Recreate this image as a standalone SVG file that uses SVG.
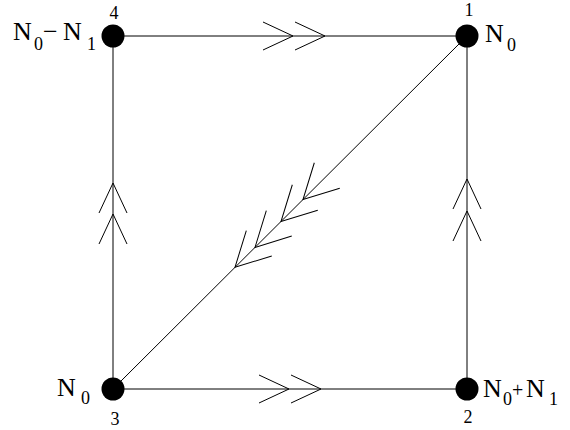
<svg xmlns="http://www.w3.org/2000/svg" width="570" height="430" viewBox="0 0 570 430">
<defs>
<style>
.edge{stroke:#000;stroke-width:1;fill:none}
.chev{stroke:#000;stroke-width:1;fill:none}
.node{fill:#000}
.lbl{font-family:"Liberation Serif","Times New Roman",serif;font-size:26px;fill:#000}
.sub{font-size:18px}
.num{font-family:"Liberation Serif","Times New Roman",serif;font-size:18px;fill:#000;text-anchor:middle}
</style>
<path id="ch" class="chev" d="M-30,-14 L0,0 L-30,14"/>
<path id="chd" class="chev" d="M-34,-18 L0,0 L-34,18"/>
</defs>
<rect width="570" height="430" fill="#fff"/>
<g id="connectors">
<line class="edge" x1="113" y1="36" x2="467" y2="36"/>
<line class="edge" x1="113" y1="389" x2="467" y2="389"/>
<line class="edge" x1="113" y1="36" x2="113" y2="389"/>
<line class="edge" x1="467" y1="36" x2="467" y2="389"/>
<line class="edge" x1="113" y1="389" x2="467" y2="36"/>
<use href="#ch" transform="translate(293,36)"/>
<use href="#ch" transform="translate(325,36)"/>
<use href="#ch" transform="translate(289,389)"/>
<use href="#ch" transform="translate(321,389)"/>
<use href="#ch" transform="translate(467,179) rotate(-90)"/>
<use href="#ch" transform="translate(467,211) rotate(-90)"/>
<use href="#ch" transform="translate(113,183) rotate(-90)"/>
<use href="#ch" transform="translate(113,214) rotate(-90)"/>
<use href="#chd" transform="translate(235,267.3) rotate(135)"/>
<use href="#chd" transform="translate(255,247.4) rotate(135)"/>
<use href="#chd" transform="translate(281,221.5) rotate(135)"/>
<use href="#chd" transform="translate(303,199.5) rotate(135)"/>
</g>
<g id="node4">
<circle class="node" cx="113" cy="36" r="11.5"/>
<text class="num" x="114" y="19">4</text>
<text class="lbl" y="40"><tspan x="13">N</tspan><tspan class="sub" x="34" y="50">0</tspan><tspan x="43" y="40">−</tspan><tspan x="63">N</tspan><tspan class="sub" x="87" y="50">1</tspan></text>
</g>
<g id="node1">
<circle class="node" cx="467" cy="36" r="11.5"/>
<text class="num" x="469" y="16">1</text>
<text class="lbl" y="42"><tspan x="485">N</tspan><tspan class="sub" x="507" y="51">0</tspan></text>
</g>
<g id="node3">
<circle class="node" cx="113" cy="389" r="11.5"/>
<text class="num" x="115" y="425">3</text>
<text class="lbl" y="396"><tspan x="57">N</tspan><tspan class="sub" x="81" y="404">0</tspan></text>
</g>
<g id="node2">
<circle class="node" cx="467" cy="389" r="11.5"/>
<text class="num" x="468" y="423">2</text>
<text class="lbl" y="397"><tspan x="483">N</tspan><tspan class="sub" x="503" y="405">0</tspan><tspan x="512" y="397" style="font-size:20px">+</tspan><tspan x="526">N</tspan><tspan class="sub" x="549" y="405">1</tspan></text>
</g>
</svg>
